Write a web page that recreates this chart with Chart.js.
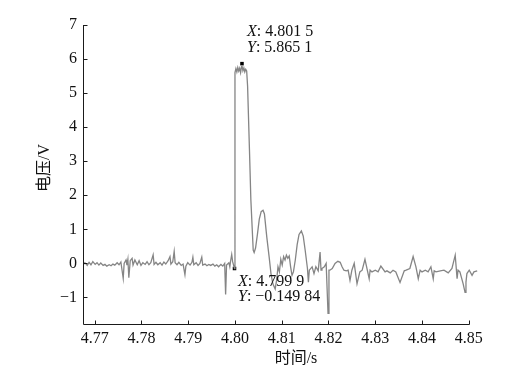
<!DOCTYPE html>
<html>
<head>
<meta charset="utf-8">
<script src="https://cdn.jsdelivr.net/npm/chart.js@4.4.1/dist/chart.umd.min.js"></script>
<style>
  html, body { margin: 0; padding: 0; background: #fff; }
  #chart { display: block; }
</style>
</head>
<body>
<canvas id="chart" width="524" height="374"></canvas>
<script>
// time axis (s) and voltage (V)
const timeValues = [
  4.7675, 4.7679, 4.7684, 4.7688, 4.7692, 4.7696, 4.7701, 4.7705, 4.7709, 4.7713,
  4.7718, 4.7722, 4.7726, 4.7731, 4.7735, 4.7739, 4.7743, 4.7748, 4.7752, 4.7756,
  4.7761, 4.7763, 4.7767, 4.7769, 4.7771, 4.7773, 4.7776, 4.7780, 4.7782, 4.7786,
  4.7791, 4.7795, 4.7799, 4.7803, 4.7808, 4.7812, 4.7816, 4.7820, 4.7825, 4.7827,
  4.7831, 4.7835, 4.7840, 4.7844, 4.7848, 4.7852, 4.7857, 4.7861, 4.7863, 4.7867,
  4.7870, 4.7872, 4.7876, 4.7880, 4.7885, 4.7889, 4.7893, 4.7895, 4.7899, 4.7904,
  4.7908, 4.7910, 4.7912, 4.7917, 4.7921, 4.7925, 4.7929, 4.7931, 4.7936, 4.7940,
  4.7944, 4.7948, 4.7953, 4.7957, 4.7961, 4.7965, 4.7970, 4.7974, 4.7978, 4.7980,
  4.7982, 4.7987, 4.7989, 4.7991, 4.7993, 4.7995, 4.7999, 4.8000, 4.8002, 4.8004,
  4.8006, 4.8008, 4.8010, 4.8012, 4.8014, 4.8015, 4.8017, 4.8019, 4.8021, 4.8023,
  4.8025, 4.8027, 4.8031, 4.8034, 4.8039, 4.8041, 4.8044, 4.8048, 4.8052, 4.8056,
  4.8060, 4.8063, 4.8068, 4.8073, 4.8077, 4.8081, 4.8086, 4.8089, 4.8092, 4.8095,
  4.8098, 4.8101, 4.8104, 4.8107, 4.8110, 4.8113, 4.8116, 4.8119, 4.8122, 4.8125,
  4.8129, 4.8133, 4.8137, 4.8142, 4.8146, 4.8150, 4.8155, 4.8157, 4.8159, 4.8165,
  4.8169, 4.8173, 4.8178, 4.8182, 4.8184, 4.8186, 4.8191, 4.8195, 4.8199, 4.8201,
  4.8203, 4.8208, 4.8214, 4.8220, 4.8225, 4.8229, 4.8233, 4.8238, 4.8242, 4.8246,
  4.8250, 4.8255, 4.8261, 4.8267, 4.8272, 4.8278, 4.8287, 4.8289, 4.8293, 4.8300,
  4.8306, 4.8312, 4.8321, 4.8325, 4.8332, 4.8338, 4.8344, 4.8353, 4.8362, 4.8366,
  4.8374, 4.8381, 4.8387, 4.8392, 4.8396, 4.8400, 4.8407, 4.8413, 4.8419, 4.8424,
  4.8426, 4.8430, 4.8439, 4.8447, 4.8456, 4.8464, 4.8471, 4.8475, 4.8477, 4.8481,
  4.8488, 4.8492, 4.8494, 4.8496, 4.8501, 4.8507, 4.8511, 4.8518, 4.8524
];
const voltageValues = [
  -0.05, 0.02, -0.06, 0.03, -0.04, 0.05, -0.03, 0.02, -0.05, 0.01,
  -0.06, -0.03, -0.08, -0.04, -0.07, -0.02, -0.05, 0.02, -0.04, 0.04,
  -0.44, 0.00, 0.10, -0.05, 0.12, -0.42, 0.08, 0.15, -0.05, 0.10,
  -0.04, 0.08, -0.06, 0.02, -0.03, 0.05, -0.04, 0.02, 0.25, -0.03,
  0.03, -0.04, 0.02, -0.05, 0.04, -0.02, 0.08, 0.20, -0.02, 0.05,
  0.35, 0.02, -0.04, 0.03, -0.06, -0.02, -0.33, -0.08, 0.02, -0.05,
  0.03, 0.18, -0.04, 0.02, -0.06, 0.00, 0.18, -0.05, -0.02, -0.07,
  -0.03, -0.06, -0.02, -0.08, -0.04, -0.10, -0.03, -0.08, 0.00, -0.91,
  -0.05, 0.02, -0.10, 0.10, 0.26, 0.05, -0.15, 5.60, 5.72, 5.62,
  5.75, 5.65, 5.73, 5.60, 5.78, 5.80, 5.66, 5.74, 5.62, 5.70,
  5.65, 5.20, 3.33, 1.86, 0.39, 0.32, 0.45, 0.85, 1.30, 1.52,
  1.56, 1.45, 0.78, 0.20, -0.30, -0.60, -0.75, -0.50, -0.10, -0.25,
  0.12, -0.05, 0.20, 0.10, 0.24, 0.15, 0.22, -0.10, -0.35, -0.25,
  0.10, 0.55, 0.85, 0.95, 0.80, 0.40, -0.15, -0.55, -0.20, -0.10,
  -0.30, -0.10, -0.22, 0.33, -0.20, -0.15, -0.10, 0.00, -1.47, -0.20,
  -0.20, -0.15, 0.00, 0.06, 0.03, -0.10, -0.20, -0.22, -0.20, -0.50,
  -0.20, 0.00, -0.60, -0.25, -0.20, 0.12, -0.45, -0.20, -0.25, -0.20,
  -0.25, -0.08, -0.25, -0.22, -0.28, -0.20, -0.25, -0.56, -0.22, -0.20,
  -0.15, 0.20, -0.10, -0.45, -0.20, -0.25, -0.20, -0.25, -0.10, -0.45,
  -0.22, -0.25, -0.22, -0.20, -0.28, -0.15, 0.24, -0.45, -0.20, -0.25,
  -0.60, -0.85, -0.55, -0.30, -0.20, -0.35, -0.25, -0.22
];

const xTicks = [4.77, 4.78, 4.79, 4.80, 4.81, 4.82, 4.83, 4.84, 4.85];
const yTicks = [-1, 0, 1, 2, 3, 4, 5, 6, 7];

// data tips
const tipX = [4.8015, 4.7999];
const tipY = [5.8651, -0.14984];
const tipLabels = [['4.801 5', '5.865 1'], ['4.799 9', '\u22120.149 84']];

const X_MIN = 4.7675, X_MAX = 4.8524, X_AXIS_END = 4.85;
const Y_MIN = -1.78, Y_MAX = 7;

const serif = '"Liberation Serif", "Times New Roman", serif';
const cjk = '"Liberation Serif", "Noto Sans CJK SC", serif';

function fmtMinus(v) {
    return v < 0 ? '\u2212' + Math.abs(v) : String(v);
}

// axis lines, inward tick marks, titles and data tip text
const decorPlugin = {
    id: 'decor',
    afterDraw(chart) {
        const { ctx, scales: { x, y } } = chart;
        const left = Math.round(x.getPixelForValue(X_MIN)) + 0.5;
        const bottom = Math.round(y.getPixelForValue(Y_MIN)) + 0.5;
        const top = Math.round(y.getPixelForValue(Y_MAX));
        const xEnd = Math.round(x.getPixelForValue(X_AXIS_END)) + 0.5;

        ctx.save();
        ctx.strokeStyle = '#1a1a1a';
        ctx.lineWidth = 1;
        ctx.beginPath();
        ctx.moveTo(left, top);
        ctx.lineTo(left, bottom);
        ctx.lineTo(xEnd, bottom);
        yTicks.forEach(v => {
            const py = Math.round(y.getPixelForValue(v)) + 0.5;
            ctx.moveTo(left, py);
            ctx.lineTo(left + 4, py);
        });
        xTicks.forEach(v => {
            const px = Math.round(x.getPixelForValue(v)) + 0.5;
            ctx.moveTo(px, bottom);
            ctx.lineTo(px, bottom - 4);
        });
        ctx.stroke();

        ctx.fillStyle = '#111';
        ctx.font = '16px ' + cjk;
        ctx.textBaseline = 'middle';
        ctx.textAlign = 'center';
        ctx.fillText('时间/s', 296, 359);
        ctx.save();
        ctx.translate(45, 168);
        ctx.rotate(-Math.PI / 2);
        ctx.fillText('电压/V', 0, 0);
        ctx.restore();

        const tipPos = [[247, 32, 48], [238, 282, 297]];
        ctx.textAlign = 'left';
        tipLabels.forEach((lines, i) => {
            const [tx, y1, y2] = tipPos[i];
            ['X', 'Y'].forEach((name, j) => {
                const ty = j === 0 ? y1 : y2;
                ctx.font = 'italic 16px ' + serif;
                ctx.fillText(name, tx, ty);
                const w = ctx.measureText(name).width;
                ctx.font = '16px ' + serif;
                ctx.fillText(': ' + lines[j], tx + w, ty);
            });
        });
        ctx.restore();
    }
};

const trace = timeValues.map((t, i) => ({ x: t, y: voltageValues[i] }));
const tips = tipX.map((t, i) => ({ x: t, y: tipY[i] }));

new Chart(document.getElementById('chart'), {
    type: 'line',
    data: {
        datasets: [
            {
                data: trace,
                borderColor: '#858585',
                borderWidth: 1.3,
                pointRadius: 0,
                tension: 0
            },
            {
                data: tips,
                showLine: false,
                pointStyle: 'rect',
                pointRadius: 2.5,
                backgroundColor: '#000',
                borderColor: '#000',
                borderWidth: 0
            }
        ]
    },
    options: {
        responsive: false,
        animation: false,
        layout: { padding: { left: 0, right: 44, top: 25, bottom: 0 } },
        plugins: {
            legend: { display: false },
            tooltip: { enabled: false }
        },
        scales: {
            x: {
                type: 'linear',
                min: X_MIN,
                max: X_MAX,
                afterFit: s => { s.height = 50; },
                afterBuildTicks: s => { s.ticks = xTicks.map(v => ({ value: v })); },
                grid: { display: false, drawTicks: false },
                border: { display: false },
                ticks: {
                    padding: 5,
                    maxRotation: 0,
                    color: '#111',
                    font: { family: serif, size: 16 },
                    callback: v => v.toFixed(2)
                }
            },
            y: {
                min: Y_MIN,
                max: Y_MAX,
                afterFit: s => { s.width = 83; },
                afterBuildTicks: s => { s.ticks = yTicks.map(v => ({ value: v })); },
                grid: { display: false, drawTicks: false },
                border: { display: false },
                ticks: {
                    padding: 6,
                    color: '#111',
                    font: { family: serif, size: 16 },
                    callback: v => fmtMinus(v)
                }
            }
        }
    },
    plugins: [decorPlugin]
});
</script>
</body>
</html>
